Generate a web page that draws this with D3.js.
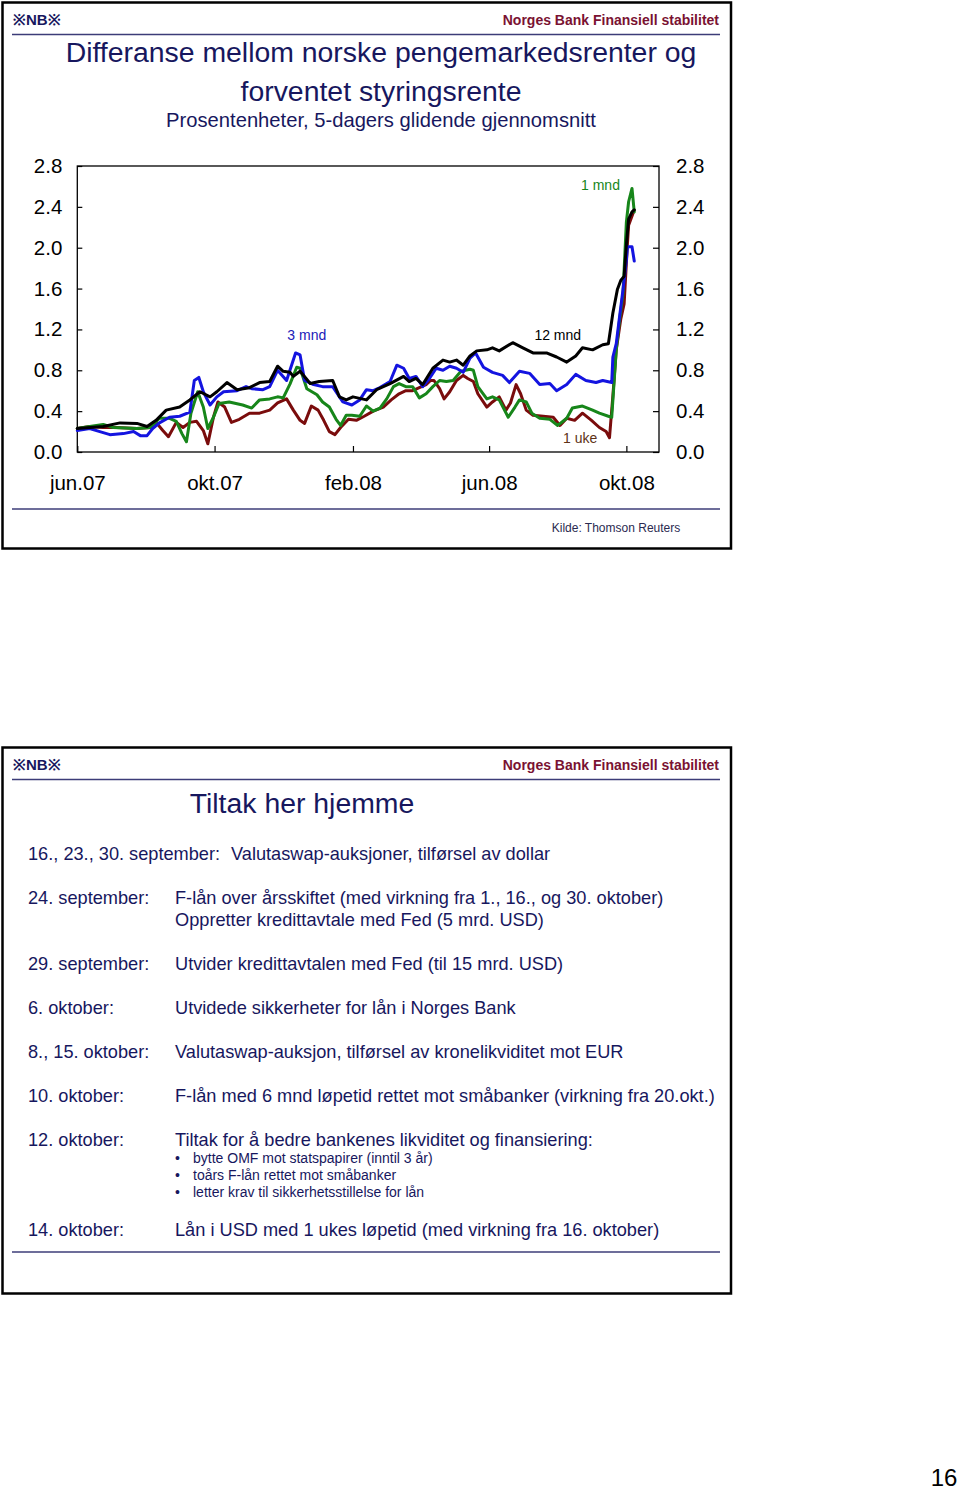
<!DOCTYPE html>
<html>
<head>
<meta charset="utf-8">
<script src="https://cdn.jsdelivr.net/npm/d3@7"></script>
<style>
  body { margin: 0; background: #fff; }
  text { font-family: "Liberation Sans", Arial, sans-serif; }
</style>
</head>
<body>
<script>
// 1 uke (mørk rød)
const datoer1uke = ["2007-06-01","2007-06-12","2007-06-24","2007-07-06","2007-07-24","2007-08-05","2007-08-10","2007-08-16","2007-08-21","2007-08-28","2007-09-03","2007-09-09","2007-09-15","2007-09-21","2007-09-25","2007-09-30","2007-10-04","2007-10-10","2007-10-16","2007-10-23","2007-11-01","2007-11-10","2007-11-19","2007-11-26","2007-12-04","2007-12-10","2007-12-16","2007-12-20","2007-12-26","2008-01-01","2008-01-06","2008-01-11","2008-01-16","2008-01-21","2008-01-28","2008-02-04","2008-02-11","2008-02-19","2008-02-28","2008-03-06","2008-03-13","2008-03-19","2008-03-25","2008-03-31","2008-04-06","2008-04-10","2008-04-13","2008-04-18","2008-04-22","2008-04-27","2008-05-03","2008-05-09","2008-05-13","2008-05-18","2008-05-22","2008-05-30","2008-06-04","2008-06-10","2008-06-16","2008-06-20","2008-06-25","2008-06-29","2008-07-04","2008-07-10","2008-07-19","2008-07-28","2008-08-03","2008-08-09","2008-08-16","2008-08-23","2008-08-31","2008-09-07","2008-09-13","2008-09-16","2008-09-19","2008-09-22","2008-09-26","2008-09-29","2008-10-02","2008-10-03","2008-10-08"];
const uke1 = [0.23,0.25,0.24,0.24,0.23,0.24,0.29,0.21,0.15,0.29,0.24,0.29,0.30,0.21,0.08,0.34,0.49,0.44,0.29,0.32,0.38,0.38,0.41,0.48,0.52,0.41,0.31,0.28,0.45,0.41,0.31,0.20,0.17,0.24,0.32,0.31,0.35,0.40,0.44,0.51,0.57,0.60,0.60,0.63,0.66,0.70,0.70,0.62,0.52,0.59,0.70,0.75,0.72,0.69,0.57,0.44,0.49,0.54,0.41,0.48,0.66,0.57,0.41,0.36,0.35,0.34,0.26,0.33,0.31,0.38,0.31,0.24,0.20,0.14,0.55,1.00,1.30,1.45,2.05,2.22,2.37];

// 1 mnd (grønn)
const datoer1mnd = ["2007-06-01","2007-06-12","2007-06-24","2007-07-03","2007-07-24","2007-08-05","2007-08-13","2007-08-22","2007-08-28","2007-09-02","2007-09-06","2007-09-10","2007-09-16","2007-09-21","2007-09-25","2007-09-30","2007-10-05","2007-10-14","2007-10-26","2007-11-03","2007-11-10","2007-11-19","2007-11-26","2007-12-01","2007-12-07","2007-12-13","2007-12-16","2007-12-22","2007-12-31","2008-01-05","2008-01-11","2008-01-17","2008-01-21","2008-01-26","2008-01-31","2008-02-07","2008-02-13","2008-02-19","2008-02-25","2008-03-02","2008-03-08","2008-03-13","2008-03-19","2008-03-25","2008-03-31","2008-04-06","2008-04-12","2008-04-18","2008-04-24","2008-04-30","2008-05-07","2008-05-15","2008-05-18","2008-05-22","2008-05-30","2008-06-04","2008-06-10","2008-06-18","2008-06-24","2008-06-28","2008-07-04","2008-07-09","2008-07-16","2008-07-25","2008-08-01","2008-08-09","2008-08-14","2008-08-23","2008-09-01","2008-09-07","2008-09-15","2008-09-18","2008-09-22","2008-09-25","2008-09-28","2008-10-01","2008-10-03","2008-10-06","2008-10-08"];
const mnd1 = [0.23,0.25,0.27,0.24,0.23,0.24,0.33,0.33,0.30,0.18,0.10,0.38,0.59,0.44,0.23,0.34,0.475,0.49,0.46,0.43,0.51,0.52,0.54,0.53,0.665,0.83,0.82,0.62,0.56,0.49,0.44,0.32,0.26,0.36,0.36,0.35,0.45,0.40,0.43,0.52,0.64,0.67,0.64,0.64,0.53,0.57,0.64,0.70,0.69,0.70,0.79,0.81,0.80,0.64,0.52,0.54,0.51,0.34,0.44,0.51,0.49,0.38,0.33,0.32,0.26,0.33,0.43,0.45,0.41,0.38,0.35,0.34,1.00,1.30,1.55,2.25,2.45,2.58,2.35];

// 3 mnd (blå)
const datoer3mnd = ["2007-06-01","2007-06-12","2007-06-21","2007-06-30","2007-07-12","2007-07-21","2007-07-27","2007-08-02","2007-08-07","2007-08-13","2007-08-22","2007-08-31","2007-09-09","2007-09-13","2007-09-17","2007-09-21","2007-09-27","2007-10-03","2007-10-09","2007-10-21","2007-10-29","2007-11-03","2007-11-13","2007-11-19","2007-11-26","2007-12-04","2007-12-12","2007-12-16","2007-12-20","2007-12-28","2008-01-05","2008-01-14","2008-01-20","2008-01-23","2008-01-31","2008-02-07","2008-02-13","2008-02-19","2008-02-25","2008-03-05","2008-03-11","2008-03-17","2008-03-22","2008-03-28","2008-04-03","2008-04-09","2008-04-15","2008-04-21","2008-04-27","2008-05-03","2008-05-09","2008-05-15","2008-05-20","2008-05-27","2008-06-04","2008-06-13","2008-06-19","2008-06-28","2008-07-07","2008-07-16","2008-07-25","2008-07-31","2008-08-09","2008-08-17","2008-08-26","2008-09-04","2008-09-10","2008-09-18","2008-09-19","2008-09-22","2008-09-25","2008-09-28","2008-10-01","2008-10-02","2008-10-06","2008-10-08"];
const mnd3 = [0.21,0.23,0.20,0.17,0.18,0.20,0.16,0.16,0.23,0.285,0.34,0.35,0.39,0.70,0.73,0.59,0.46,0.54,0.59,0.60,0.64,0.62,0.61,0.64,0.80,0.70,0.97,0.95,0.70,0.66,0.64,0.64,0.54,0.49,0.46,0.51,0.61,0.60,0.63,0.69,0.85,0.82,0.72,0.74,0.64,0.72,0.82,0.80,0.84,0.82,0.78,0.92,0.97,0.83,0.78,0.75,0.68,0.79,0.77,0.66,0.67,0.60,0.66,0.76,0.70,0.68,0.70,0.68,0.93,1.06,1.33,1.59,1.88,2.01,2.01,1.87];

// 12 mnd (svart)
const datoer12mnd = ["2007-06-01","2007-06-24","2007-07-09","2007-07-24","2007-08-02","2007-08-10","2007-08-19","2007-08-31","2007-09-09","2007-09-18","2007-09-27","2007-10-03","2007-10-12","2007-10-21","2007-11-01","2007-11-10","2007-11-19","2007-11-26","2007-12-01","2007-12-07","2007-12-10","2007-12-16","2007-12-25","2008-01-02","2008-01-14","2008-01-20","2008-01-26","2008-02-01","2008-02-13","2008-02-22","2008-03-05","2008-03-17","2008-03-22","2008-03-28","2008-04-03","2008-04-12","2008-04-21","2008-04-27","2008-05-03","2008-05-09","2008-05-15","2008-05-21","2008-05-30","2008-06-04","2008-06-10","2008-06-22","2008-07-01","2008-07-10","2008-07-22","2008-07-31","2008-08-09","2008-08-17","2008-08-23","2008-09-01","2008-09-10","2008-09-15","2008-09-17","2008-09-19","2008-09-23","2008-09-26","2008-09-29","2008-10-01","2008-10-03","2008-10-06","2008-10-08"];
const mnd12 = [0.23,0.25,0.285,0.28,0.25,0.31,0.41,0.44,0.51,0.59,0.54,0.59,0.68,0.61,0.63,0.68,0.69,0.84,0.79,0.78,0.74,0.79,0.67,0.69,0.70,0.54,0.51,0.54,0.51,0.61,0.67,0.74,0.69,0.72,0.66,0.82,0.90,0.88,0.90,0.85,0.94,0.99,1.00,1.02,0.99,1.07,1.02,0.97,0.97,0.93,0.88,0.94,1.02,1.00,1.05,1.06,1.21,1.36,1.59,1.68,1.72,2.03,2.28,2.35,2.37];

const yTicks = [0, 0.4, 0.8, 1.2, 1.6, 2.0, 2.4, 2.8];
const xTickDatoer = ["2007-06-01","2007-10-01","2008-02-01","2008-06-01","2008-10-01"];
const xTickEtiketter = ["jun.07","okt.07","feb.08","jun.08","okt.08"];

// tekst til slide 2
const datoTekster = ["24. september:","29. september:","6. oktober:","8., 15. oktober:","10. oktober:","12. oktober:","14. oktober:"];
const tiltakTekster = [
  ["F-lån over årsskiftet (med virkning fra 1., 16., og 30. oktober)","Oppretter kredittavtale med Fed (5 mrd. USD)"],
  ["Utvider kredittavtalen med Fed (til 15 mrd. USD)"],
  ["Utvidede sikkerheter for lån i Norges Bank"],
  ["Valutaswap-auksjon, tilførsel av kronelikviditet mot EUR"],
  ["F-lån med 6 mnd løpetid rettet mot småbanker (virkning fra 20.okt.)"],
  ["Tiltak for å bedre bankenes likviditet og finansiering:"],
  ["Lån i USD med 1 ukes løpetid (med virkning fra 16. oktober)"]
];
const tiltakYer = [898, 964, 1008, 1052, 1096, 1140, 1230];
const punkter = ["bytte OMF mot statspapirer (inntil 3 år)","toårs F-lån rettet mot småbanker","letter krav til sikkerhetsstillelse for lån"];

const navy = "#17175e";
const parse = d3.timeParse("%Y-%m-%d");

const svg = d3.select("body")
    .append("svg")
    .attr("width", 960)
    .attr("height", 1491)
    .style("background", "#fff");

// ramme + topptekst for en slide
function slide(y0) {
    svg.append("rect")
        .attr("x", 2.5).attr("y", y0 + 2.5)
        .attr("width", 728.5).attr("height", 546)
        .attr("fill", "none").attr("stroke", "#000").attr("stroke-width", 2.5);
    svg.append("text")
        .attr("x", 13).attr("y", y0 + 25)
        .attr("font-size", 15).attr("font-weight", "bold").attr("fill", navy)
        .text("※NB※");
    svg.append("text")
        .attr("x", 719).attr("y", y0 + 25)
        .attr("text-anchor", "end")
        .attr("font-size", 14).attr("font-weight", "bold").attr("fill", "#7a1232")
        .text("Norges Bank Finansiell stabilitet");
    svg.append("line")
        .attr("x1", 12).attr("x2", 720)
        .attr("y1", y0 + 34.5).attr("y2", y0 + 34.5)
        .attr("stroke", "#3c3c78").attr("stroke-width", 1.5);
}

slide(0);
slide(745);

// titler
svg.append("text").attr("x", 381).attr("y", 62).attr("text-anchor", "middle")
    .attr("font-size", 28.4).attr("fill", navy)
    .text("Differanse mellom norske pengemarkedsrenter og");
svg.append("text").attr("x", 381).attr("y", 101).attr("text-anchor", "middle")
    .attr("font-size", 28.4).attr("fill", navy)
    .text("forventet styringsrente");
svg.append("text").attr("x", 381).attr("y", 127).attr("text-anchor", "middle")
    .attr("font-size", 20.2).attr("fill", navy)
    .text("Prosentenheter, 5-dagers glidende gjennomsnitt");

// diagram
const x = d3.scaleTime()
    .domain([parse("2007-06-01"), parse("2008-10-30")])
    .range([77.3, 659]);
const y = d3.scaleLinear()
    .domain([0, 2.8])
    .range([452, 166]);

const g = svg.append("g");

g.append("g")
    .attr("transform", "translate(77.3,0)")
    .call(d3.axisLeft(y).tickValues(yTicks).tickFormat(d3.format(".1f")).tickSize(-5).tickPadding(15))
    .call(a => a.select(".domain").remove());
g.append("g")
    .attr("transform", "translate(659,0)")
    .call(d3.axisRight(y).tickValues(yTicks).tickFormat(d3.format(".1f")).tickSize(-6).tickPadding(17))
    .call(a => a.select(".domain").remove());
g.append("g")
    .attr("transform", "translate(0,452)")
    .call(d3.axisBottom(x).tickValues(xTickDatoer.map(parse))
        .tickFormat((d, i) => xTickEtiketter[i]).tickSize(-6).tickPadding(23))
    .call(a => a.select(".domain").remove());

g.selectAll(".tick text")
    .attr("font-family", "Liberation Sans, Arial, sans-serif")
    .attr("font-size", 20.5)
    .attr("fill", "#000");
g.selectAll(".tick line").attr("stroke", "#000").attr("stroke-width", 1.2);

g.append("rect")
    .attr("x", 77.3).attr("y", 166)
    .attr("width", 659 - 77.3).attr("height", 452 - 166)
    .attr("fill", "none").attr("stroke", "#000").attr("stroke-width", 1.3);

const line = d3.line()
    .x(d => x(d[0]))
    .y(d => y(d[1]));

const serier = [
    { datoer: datoer1uke, verdier: uke1, farge: "#7a0c0c" },
    { datoer: datoer1mnd, verdier: mnd1, farge: "#17861a" },
    { datoer: datoer3mnd, verdier: mnd3, farge: "#1414e0" },
    { datoer: datoer12mnd, verdier: mnd12, farge: "#000000" }
];

serier.forEach(s => {
    const pts = s.datoer.map((d, i) => [parse(d), s.verdier[i]]);
    g.append("path")
        .datum(pts)
        .attr("d", line)
        .attr("fill", "none")
        .attr("stroke", s.farge)
        .attr("stroke-width", 3)
        .attr("stroke-linejoin", "round")
        .attr("stroke-linecap", "round");
});

// serie-etiketter
const etiketter = [
    { tekst: "1 mnd", dato: "2008-09-08", v: 2.61, farge: "#17861a" },
    { tekst: "3 mnd", dato: "2007-12-22", v: 1.146, farge: "#2020b8" },
    { tekst: "12 mnd", dato: "2008-08-01", v: 1.146, farge: "#000" },
    { tekst: "1 uke", dato: "2008-08-21", v: 0.135, farge: "#5e3216" }
];
g.selectAll(".etikett")
    .data(etiketter)
    .enter()
    .append("text")
    .attr("x", d => x(parse(d.dato)))
    .attr("y", d => y(d.v))
    .attr("dy", "0.35em")
    .attr("text-anchor", "middle")
    .attr("font-size", 14)
    .attr("fill", d => d.farge)
    .text(d => d.tekst);

svg.append("line")
    .attr("x1", 12).attr("x2", 720).attr("y1", 509).attr("y2", 509)
    .attr("stroke", "#3c3c78").attr("stroke-width", 1.5);
svg.append("text").attr("x", 616).attr("y", 532).attr("text-anchor", "middle")
    .attr("font-size", 12).attr("fill", "#2a2a50")
    .text("Kilde: Thomson Reuters");

// slide 2
svg.append("text").attr("x", 302).attr("y", 813).attr("text-anchor", "middle")
    .attr("font-size", 28.4).attr("fill", navy)
    .text("Tiltak her hjemme");

const s2 = svg.append("g").attr("font-size", 18.2).attr("fill", navy);
s2.append("text").attr("x", 28).attr("y", 860).text("16., 23., 30. september:");
s2.append("text").attr("x", 231).attr("y", 860).text("Valutaswap-auksjoner, tilførsel av dollar");

datoTekster.forEach((t, i) => {
    s2.append("text").attr("x", 28).attr("y", tiltakYer[i] + 6).text(t);
    tiltakTekster[i].forEach((l, j) => {
        s2.append("text").attr("x", 175).attr("y", tiltakYer[i] + 6 + j * 22).text(l);
    });
});

punkter.forEach((p, i) => {
    s2.append("text").attr("x", 175).attr("y", 1163 + i * 17).attr("font-size", 14).text("•");
    s2.append("text").attr("x", 193).attr("y", 1163 + i * 17).attr("font-size", 14).text(p);
});

svg.append("line")
    .attr("x1", 12).attr("x2", 720).attr("y1", 1252).attr("y2", 1252)
    .attr("stroke", "#3c3c78").attr("stroke-width", 1.5);

svg.append("text").attr("x", 944).attr("y", 1486).attr("text-anchor", "middle")
    .attr("font-family", "Liberation Serif, serif").attr("font-size", 24).attr("fill", "#000")
    .text("16");
</script>
</body>
</html>
